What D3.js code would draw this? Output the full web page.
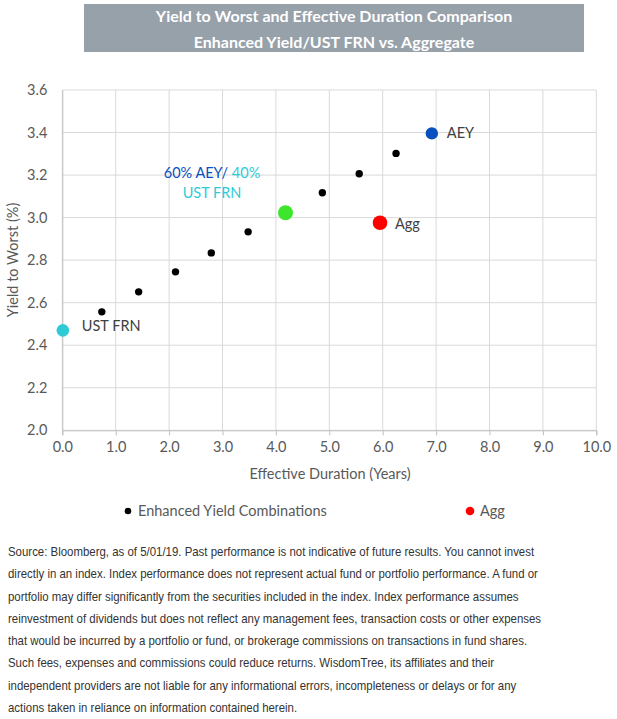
<!DOCTYPE html>
<html><head><meta charset="utf-8">
<script src="https://cdn.jsdelivr.net/npm/d3@7"></script>
<style>body{margin:0;background:#fff}</style>
</head><body>
<svg id="c" width="617" height="719"></svg>
<script>
const titleLines = ["Yield to Worst and Effective Duration Comparison", "Enhanced Yield/UST FRN vs. Aggregate"];
const comboDuration = [0.74, 1.43, 2.12, 2.79, 3.48, 4.87, 5.56, 6.25];
const comboYield    = [2.557, 2.651, 2.745, 2.834, 2.933, 3.117, 3.206, 3.302];
const keyNames    = ["UST FRN", "60% AEY/ 40% UST FRN", "AEY", "Agg"];
const keyDuration = [0.01, 4.18, 6.92, 5.95];
const keyYield    = [2.47, 3.023, 3.396, 2.976];
const keyColors   = ["#2ECBD6", "#3DE52B", "#0A4FBF", "#FF0000"];
const keyRadius   = [6.3, 7.5, 6.2, 7.3];
const xTicks = [0,1,2,3,4,5,6,7,8,9,10];
const yTicks = [2.0,2.2,2.4,2.6,2.8,3.0,3.2,3.4,3.6];
const legendNames = ["Enhanced Yield Combinations", "Agg"];
const footLines = [
 "Source: Bloomberg, as of 5/01/19. Past performance is not indicative of future results. You cannot invest",
 "directly in an index. Index performance does not represent actual fund or portfolio performance. A fund or",
 "portfolio may differ significantly from the securities included in the index. Index performance assumes",
 "reinvestment of dividends but does not reflect any management fees, transaction costs or other expenses",
 "that would be incurred by a portfolio or fund, or brokerage commissions on transactions in fund shares.",
 "Such fees, expenses and commissions could reduce returns. WisdomTree, its affiliates and their",
 "independent providers are not liable for any informational errors, incompleteness or delays or for any",
 "actions taken in reliance on information contained herein."
];

const svg = d3.select("#c");
const F = "Lato, 'Open Sans', sans-serif";
const grey = "#595959";

// title banner
svg.append("rect").attr("x",84).attr("y",4).attr("width",500).attr("height",48).attr("fill","#97A1AA");
svg.selectAll("text.title").data(titleLines).join("text")
  .attr("x",334).attr("y",(d,i)=>22+i*26).attr("text-anchor","middle")
  .attr("fill","#fff").attr("font-family",F).attr("font-weight","bold").attr("font-size",16).text(d=>d);

const x = d3.scaleLinear().domain([0,10]).range([62.3,596.3]);
const y = d3.scaleLinear().domain([2.0,3.6]).range([430.3,90]);

// grid
const g = svg.append("g");
g.selectAll("line.vx").data(xTicks).join("line")
  .attr("x1",d=>x(d)).attr("x2",d=>x(d)).attr("y1",y(3.6)).attr("y2",y(2.0))
  .attr("stroke","#D9D9D9").attr("stroke-width",1);
g.selectAll("line.hy").data(yTicks).join("line")
  .attr("x1",x(0)).attr("x2",x(10)).attr("y1",d=>y(d)).attr("y2",d=>y(d))
  .attr("stroke","#D9D9D9").attr("stroke-width",1);

// axes
const xAxis = d3.axisBottom(x).tickValues(xTicks).tickFormat(d3.format(".1f")).tickSize(5).tickPadding(6);
const yAxis = d3.axisLeft(y).tickValues(yTicks).tickFormat(d3.format(".1f")).tickSize(0).tickPadding(15);
const gx = svg.append("g").attr("transform",`translate(0,${y(2.0)})`).call(xAxis);
const gy = svg.append("g").attr("transform",`translate(${x(0)},0)`).call(yAxis);
[gx,gy].forEach(a=>{
  a.select(".domain").attr("stroke","#BFBFBF");
  a.selectAll(".tick line").attr("stroke","#BFBFBF");
  a.selectAll("text").attr("fill",grey).attr("font-family",F).attr("font-size",14.5);
});

svg.append("text").attr("x",330).attr("y",479).attr("text-anchor","middle")
  .attr("fill",grey).attr("font-family",F).attr("font-size",14.5).text("Effective Duration (Years)");
svg.append("text").attr("transform","translate(18,260) rotate(-90)").attr("text-anchor","middle")
  .attr("fill",grey).attr("font-family",F).attr("font-size",14.5).text("Yield to Worst (%)");

// combos
svg.selectAll("circle.combo").data(comboDuration).join("circle")
  .attr("cx",d=>x(d)).attr("cy",(d,i)=>y(comboYield[i])).attr("r",3.7).attr("fill","#000");
// key points
svg.selectAll("circle.key").data(keyNames).join("circle")
  .attr("cx",(d,i)=>x(keyDuration[i])).attr("cy",(d,i)=>y(keyYield[i])).attr("r",(d,i)=>keyRadius[i])
  .attr("fill",(d,i)=>keyColors[i]);

// labels
const lab = (tx,ty,txt,col)=>svg.append("text").attr("x",tx).attr("y",ty).attr("fill",col||grey)
  .attr("font-family",F).attr("font-size",14.5).text(txt);
lab(x(keyDuration[0])+19, y(keyYield[0])+1, "UST FRN", "#404040");
lab(x(keyDuration[2])+15, y(keyYield[2])+5, "AEY", "#404040");
lab(x(keyDuration[3])+15, y(keyYield[3])+6, "Agg", "#404040");
const mix = svg.append("text").attr("x",212).attr("y",178).attr("text-anchor","middle")
  .attr("font-family",F).attr("font-size",14.5);
mix.append("tspan").attr("fill",keyColors[2]).text("60% AEY/ ");
mix.append("tspan").attr("fill",keyColors[0]).text("40%");
svg.append("text").attr("x",212).attr("y",198).attr("text-anchor","middle")
  .attr("font-family",F).attr("font-size",14.5).attr("fill",keyColors[0]).text("UST FRN");

// legend
const legX = [128, 470], legCol = ["#000", keyColors[3]];
legendNames.forEach((n,i)=>{
  svg.append("circle").attr("cx",legX[i]).attr("cy",511).attr("r",i?4.3:3.3).attr("fill",legCol[i]);
  svg.append("text").attr("x",legX[i]+10).attr("y",516).attr("fill",grey)
    .attr("font-family",F).attr("font-size",14.5).text(n);
});

// footnote (condensed rendering like the reference)
const foot = svg.append("g").attr("transform","translate(8,0) scale(0.88,1)");
foot.selectAll("text.foot").data(footLines).join("text")
  .attr("x",0).attr("y",(d,i)=>556+i*22.3).attr("fill","#333")
  .attr("font-family","'Liberation Sans', Arial, sans-serif").attr("font-size",13).text(d=>d);
</script>
</body></html>
